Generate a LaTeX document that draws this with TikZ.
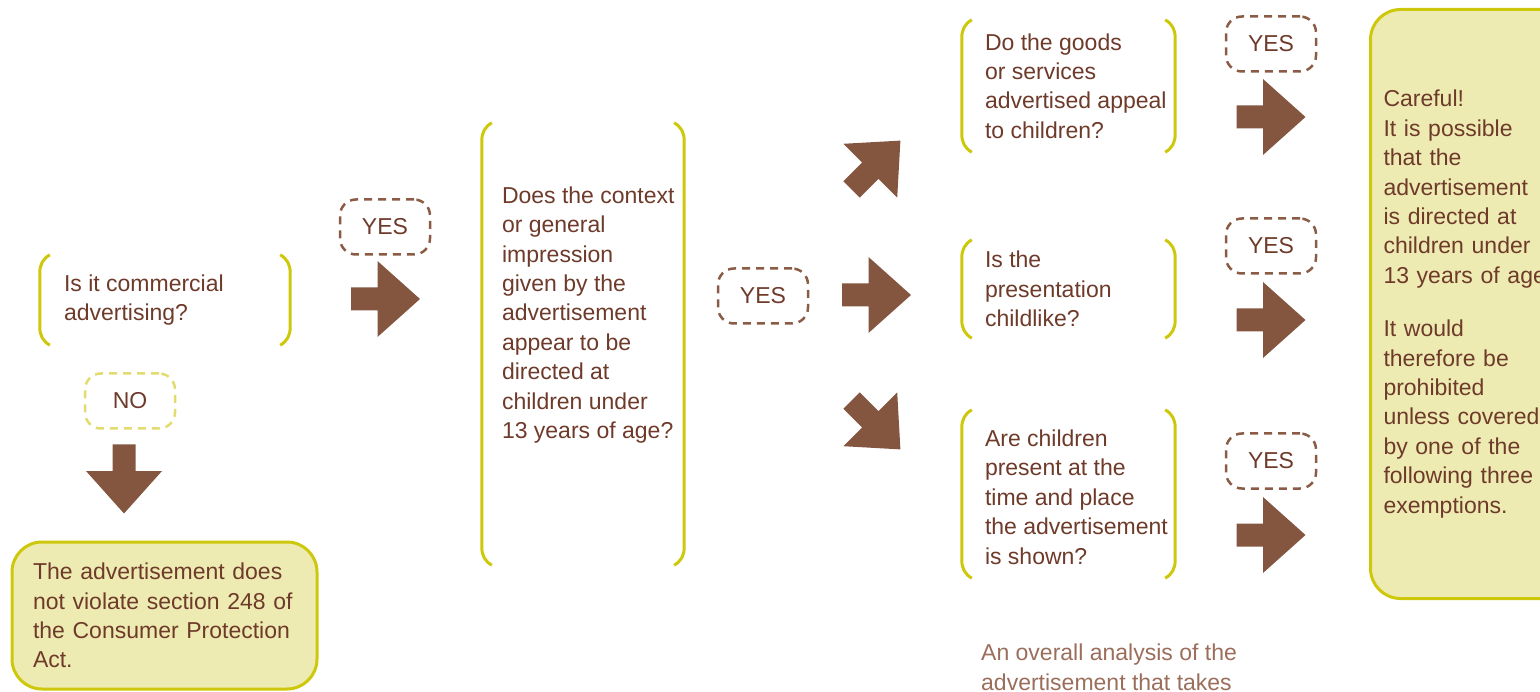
\documentclass[tikz,border=0pt]{standalone}
\usepackage{fontspec}
\setmainfont{Liberation Sans}
\definecolor{txtbrown}{RGB}{110,58,42}
\definecolor{arrowbrown}{RGB}{132,86,64}
\definecolor{dashbrown}{RGB}{138,92,70}
\definecolor{lime}{RGB}{206,200,12}
\definecolor{paleyellow}{RGB}{238,235,178}
\definecolor{paledash}{RGB}{226,220,110}
\definecolor{notebrown}{RGB}{155,110,92}
\tikzset{
    every node/.style={font=\fontsize{23}{29.4}\selectfont, text=txtbrown}
}
\tikzset{
    qframe/.style={inner sep=0pt, draw=none},
    qtext/.style={align=left, inner sep=0pt, anchor=west},
    bracket/.style={draw=lime, line width=3pt},
    answer/.style={draw=dashbrown, line width=2.5pt, dash pattern=on 8pt off 6pt,
        rounded corners=16pt, minimum width=90pt, minimum height=55pt, inner sep=0pt},
    noanswer/.style={answer, draw=paledash},
    outcome/.style={draw=lime, fill=paleyellow, line width=3pt, rounded corners=30pt,
        align=left},
    note/.style={align=left, text=notebrown, inner sep=0pt, anchor=north west}
}
\tikzset{
    pics/bigarrow/.style={code={
        \fill[arrowbrown] (-34.5,-11.5) -- (-8,-11.5) -- (-8,-38) -- (34.5,0)
            -- (-8,38) -- (-8,11.5) -- (-34.5,11.5) -- cycle;
    }}
}
% left and right bracket of a question frame
\newcommand{\brackets}[1]{%
    \draw[bracket] ([xshift=10pt]#1.north west) to[out=210,in=90] ([yshift=-18pt]#1.north west)
        -- ([yshift=18pt]#1.south west) to[out=-90,in=150] ([xshift=10pt]#1.south west);
    \draw[bracket] ([xshift=-10pt]#1.north east) to[out=-30,in=90] ([yshift=-18pt]#1.north east)
        -- ([yshift=18pt]#1.south east) to[out=-90,in=30] ([xshift=-10pt]#1.south east);
}

\begin{document}
\begin{tikzpicture}[x=1pt, y=-1pt]
	\useasboundingbox (0,0) rectangle (1540,692);

	% first question
	\node[qframe, minimum width=250pt, minimum height=90pt] (commercial) at (165,300) {};
	\node[qtext] (commercialq) at ([xshift=24pt]commercial.west) {Is it commercial\\advertising?};
	\brackets{commercial}
	\node[noanswer] (no) at (130,401) {NO};
	\pic[rotate=-90] at (124,479) {bigarrow};
	\node[outcome, text width=263pt, inner xsep=21pt, minimum height=147pt] (noviolation) at (164.5,615.5)
		{The advertisement does\\not violate section 248 of\\the Consumer Protection\\Act.};

	% second question
	\node[answer] (yes1) at (385,227) {YES};
	\pic at (385.5,299) {bigarrow};
	\node[qframe, minimum width=202pt, minimum height=442pt] (context) at (583,344) {};
	\node[qtext] (contextq) at ([xshift=20pt, yshift=29pt]context.west)
		{Does the context\\or general\\impression\\given by the\\advertisement\\appear to be\\directed at\\children under\\13 years of age?};
	\brackets{context}

	% three criteria
	\node[answer] (yes2) at (763,296) {YES};
	\pic[rotate=45] at (876,165) {bigarrow};
	\pic at (876.5,295) {bigarrow};
	\pic[rotate=-45] at (876,425) {bigarrow};

	\node[qframe, minimum width=213pt, minimum height=132pt] (goods) at (1068.5,86) {};
	\node[qtext] (goodsq) at ([xshift=23pt]goods.west)
		{Do the goods\\or services\\advertised appeal\\to children?};
	\brackets{goods}
	\node[qframe, minimum width=213pt, minimum height=98pt] (childlike) at (1068.5,289) {};
	\node[qtext] (childlikeq) at ([xshift=23pt]childlike.west)
		{Is the\\presentation\\childlike?};
	\brackets{childlike}
	\node[qframe, minimum width=213pt, minimum height=168pt] (present) at (1068.5,494) {};
	\node[qtext] (presentq) at ([xshift=23pt, yshift=-3pt]present.west)
		{Are children\\present at the\\time and place\\the advertisement\\is shown?};
	\brackets{present}

	\node[answer] (yes3) at (1271,44) {YES};
	\node[answer] (yes4) at (1271,246) {YES};
	\node[answer] (yes5) at (1271,461) {YES};
	\pic at (1271,117) {bigarrow};
	\pic at (1271,320) {bigarrow};
	\pic at (1271,535) {bigarrow};

	% conclusion
	\node[outcome, anchor=north west, text width=192pt, inner xsep=13pt, minimum height=589pt]
		(careful) at (1369,8)
		{Careful!\\It is possible\\that the\\advertisement\\is directed at\\children under\\13 years of age\\[24pt]It would\\therefore be\\prohibited\\unless covered\\by one of the\\following three\\exemptions.};

	\node[note] (analysis) at (981,644) {An overall analysis of the\\advertisement that takes};
\end{tikzpicture}
\end{document}
